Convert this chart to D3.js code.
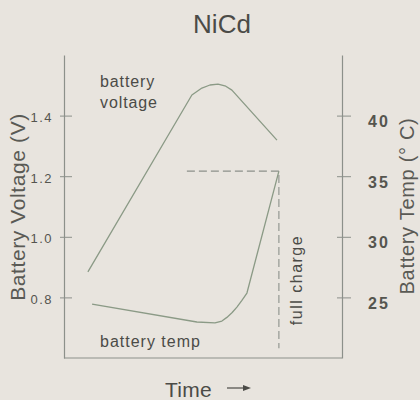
<!DOCTYPE html>
<html>
<head>
<meta charset="utf-8">
<script src="https://cdn.jsdelivr.net/npm/d3@7"></script>
<style>
  body { margin: 0; background: #e8e4de; }
  svg { display: block; font-family: "Liberation Sans", Arial, sans-serif; }
</style>
</head>
<body>
<svg id="chart" width="420" height="400"></svg>
<script>
// values (time is in arbitrary units, 0-100 across the plot)
var voltTime = [8.6, 46.0, 49.6, 52.5, 55.4, 58.2, 60.4, 76.6];
var voltValues = [0.884, 1.468, 1.491, 1.501, 1.504, 1.497, 1.484, 1.319];

var tempTime = [10.1, 47.8, 54.3, 56.8, 58.6, 60.5, 62.2, 64.0, 65.8, 77.3];
var tempValues = [24.45, 22.97, 22.89, 23.05, 23.35, 23.75, 24.20, 24.75, 25.36, 35.42];

var voltTicks = [0.8, 1.0, 1.2, 1.4];
var tempTicks = [25, 30, 35, 40];

// full charge marker: dashed line from the temp curve's end
var fullChargeTime = 77.3;
var fullChargeTemp = 35.42;
var fullChargeDashFrom = 44.2;   // time where the horizontal dash starts
var fullChargeDashTo = 20.8;     // temp where the vertical dash stops

var textColor = "#4b4b47";
var axisColor = "#8c908a";
var lineColor = "#8b9a86";

var svg = d3.select("#chart");

svg.append("rect")
  .attr("width", 420)
  .attr("height", 400)
  .attr("fill", "#e8e4de");

var x = d3.scaleLinear().domain([0, 100]).range([64, 342]);
var yV = d3.scaleLinear().domain([0.6, 1.6]).range([358, 55]);
var yT = d3.scaleLinear().domain([20, 45]).range([358, 55]);

// title
svg.append("text")
  .attr("x", 222)
  .attr("y", 33)
  .attr("text-anchor", "middle")
  .style("font-size", "26px")
  .style("fill", textColor)
  .text("NiCd");

// bottom line
svg.append("line")
  .attr("x1", x(0)).attr("x2", x(100))
  .attr("y1", yV(0.6)).attr("y2", yV(0.6))
  .style("stroke", axisColor)
  .style("stroke-width", "1.2px");

// left axis
var left = svg.append("g")
  .attr("transform", "translate(" + x(0) + ",0)")
  .call(d3.axisLeft(yV).tickValues(voltTicks).tickFormat(d3.format(".1f")).tickSizeOuter(0));

left.select(".domain").style("stroke", axisColor).style("stroke-width", "1.2px");
left.selectAll(".tick line")
  .attr("x1", -4).attr("x2", 8)
  .style("stroke", axisColor);
left.selectAll(".tick text")
  .attr("x", -11)
  .attr("dy", "0.32em")
  .attr("y", 2)
  .style("font-size", "13px")
  .style("letter-spacing", "1.5px")
  .style("font-family", "'Liberation Sans', Arial, sans-serif")
  .style("fill", "#55554f");

// right axis
var right = svg.append("g")
  .attr("transform", "translate(" + x(100) + ",0)")
  .call(d3.axisRight(yT).tickValues(tempTicks).tickSizeOuter(0));

right.select(".domain").style("stroke", axisColor).style("stroke-width", "1.2px");
right.selectAll(".tick line")
  .attr("x1", -5).attr("x2", 9)
  .style("stroke", axisColor);
right.selectAll(".tick text")
  .attr("x", 26)
  .attr("dy", "0.32em")
  .attr("y", 6)
  .style("font-size", "16px")
  .style("font-weight", "bold")
  .style("letter-spacing", "2px")
  .style("font-family", "'Liberation Sans', Arial, sans-serif")
  .style("fill", "#55554f");

// axis titles
svg.append("text")
  .attr("transform", "translate(25,207) rotate(-90)")
  .attr("text-anchor", "middle")
  .style("font-size", "21px")
  .style("letter-spacing", "0.6px")
  .style("fill", "#5a5a55")
  .text("Battery Voltage (V)");

svg.append("text")
  .attr("transform", "translate(414,206) rotate(-90)")
  .attr("text-anchor", "middle")
  .style("font-size", "20px")
  .style("letter-spacing", "0.7px")
  .style("fill", "#5a5a55")
  .text("Battery Temp (\u00b0 C)");

svg.append("text")
  .attr("x", 165)
  .attr("y", 397)
  .style("font-size", "21px")
  .style("letter-spacing", "0.3px")
  .style("fill", textColor)
  .text("Time");

// little arrow after "Time"
svg.append("line")
  .attr("x1", 227).attr("x2", 245)
  .attr("y1", 388).attr("y2", 388)
  .style("stroke", textColor)
  .style("stroke-width", "1.2px");
svg.append("path")
  .attr("d", "M243,385 L251,388 L243,391 Z")
  .style("fill", textColor);

// curves
var voltData = voltTime.map(function(t, i) { return [t, voltValues[i]]; });
var tempData = tempTime.map(function(t, i) { return [t, tempValues[i]]; });

var voltLine = d3.line()
  .x(function(d) { return x(d[0]); })
  .y(function(d) { return yV(d[1]); });

var tempLine = d3.line()
  .x(function(d) { return x(d[0]); })
  .y(function(d) { return yT(d[1]); });

svg.append("path")
  .datum(voltData)
  .attr("d", voltLine)
  .style("fill", "none")
  .style("stroke", lineColor)
  .style("stroke-width", "1.3px")
  .style("stroke-linejoin", "round");

svg.append("path")
  .datum(tempData)
  .attr("d", tempLine)
  .style("fill", "none")
  .style("stroke", lineColor)
  .style("stroke-width", "1.3px")
  .style("stroke-linejoin", "round");

// full charge dashes
svg.append("path")
  .attr("d", "M" + x(fullChargeDashFrom) + "," + yT(fullChargeTemp) +
             "H" + x(fullChargeTime) +
             "V" + yT(fullChargeDashTo))
  .style("fill", "none")
  .style("stroke", axisColor)
  .style("stroke-width", "1.1px")
  .style("stroke-dasharray", ("8,4"));

// labels on the plot
svg.append("text")
  .attr("x", 100).attr("y", 87)
  .style("font-size", "16px")
  .style("letter-spacing", "0.9px")
  .style("fill", textColor)
  .text("battery");
svg.append("text")
  .attr("x", 100).attr("y", 108)
  .style("font-size", "16px")
  .style("letter-spacing", "0.9px")
  .style("fill", textColor)
  .text("voltage");

svg.append("text")
  .attr("x", 100).attr("y", 347)
  .style("font-size", "16px")
  .style("letter-spacing", "1px")
  .style("fill", textColor)
  .text("battery temp");

svg.append("text")
  .attr("transform", "translate(302,280) rotate(-90)")
  .attr("text-anchor", "middle")
  .style("font-size", "16px")
  .style("letter-spacing", "1.5px")
  .style("fill", textColor)
  .text("full charge");
</script>
</body>
</html>
